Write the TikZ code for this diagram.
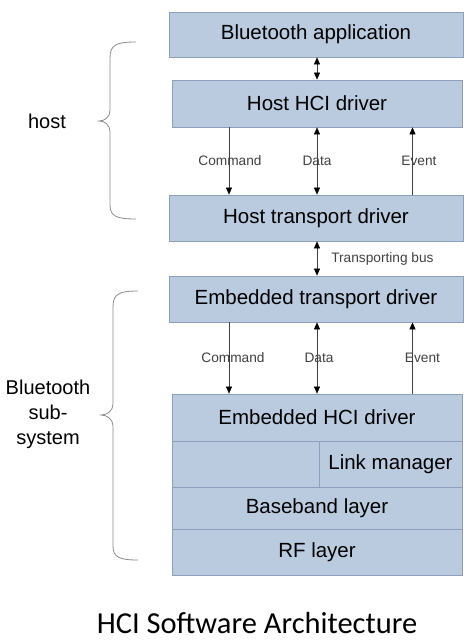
\documentclass[tikz,border=0pt]{standalone}
\usepackage{fontspec}
\setmainfont{Liberation Sans}
\newfontfamily\titlefont{Carlito}
\usetikzlibrary{arrows.meta,positioning,calc}
\definecolor{layerfill}{HTML}{BACADF}
\definecolor{layerline}{HTML}{8C9FBC}

\begin{document}
\begin{tikzpicture}[
    x=1pt, y=-1pt,
    layer/.style={rectangle, draw=layerline, fill=layerfill, line width=0.8pt, inner sep=0pt, font=\fontsize{20.5}{24}\selectfont},
    lbl/.style={font=\fontsize{13.7}{16}\selectfont, inner sep=0pt},
    side/.style={font=\fontsize{20}{25}\selectfont, align=center},
    arrow/.style={-{Triangle[length=7pt,width=6pt,black]}, black!75, line width=0.6pt},
    darrow/.style={{Triangle[length=7pt,width=6pt,black]}-{Triangle[length=7pt,width=6pt,black]}, black!75, line width=0.6pt},
    bracket/.style={draw=black!45, line width=0.8pt}
]
\useasboundingbox (0,0) rectangle (471,644);

% Host side
\node[layer, minimum width=294pt, minimum height=45pt] (app) at (316,34.5) {Bluetooth application};
\node[layer, minimum width=290pt, minimum height=47pt] (hhci) at (317,103.5) {Host HCI driver};
\node[layer, minimum width=294pt, minimum height=46pt] (htd) at (316,218) {Host transport driver};

% Controller side
\node[layer, minimum width=294pt, minimum height=46pt] (etd) at (316,299) {Embedded transport driver};
\node[layer, minimum width=290pt, minimum height=47pt] (ehci) at (317,417.5) {Embedded HCI driver};
\node[layer, minimum width=147pt, minimum height=46pt] (blank) at (245.5,464) {};
\node[layer, minimum width=143pt, minimum height=46pt] (lm) at (390.5,464) {Link manager};
\node[layer, minimum width=290pt, minimum height=42pt] (bb) at (317,508) {Baseband layer};
\node[layer, minimum width=290pt, minimum height=46pt] (rf) at (317,552) {RF layer};

% Arrow columns
\coordinate (cmd) at (229,0);
\coordinate (dat) at (317,0);
\coordinate (evt) at (412.5,0);

\draw[darrow] (dat |- app.south) -- (dat |- hhci.north);

\draw[arrow] (cmd |- hhci.south) -- node[lbl, midway, xshift=1pt] {Command} (cmd |- htd.north);
\draw[darrow] (dat |- hhci.south) -- node[lbl, midway] {Data} (dat |- htd.north);
\draw[arrow] (evt |- htd.north) -- node[lbl, midway, xshift=6.5pt] {Event} (evt |- hhci.south);

\draw[darrow] (dat |- htd.south) -- node[lbl, midway, right, xshift=14pt] {Transporting bus} (dat |- etd.north);

\draw[arrow] (cmd |- etd.south) -- node[lbl, midway, xshift=4pt] {Command} (cmd |- ehci.north);
\draw[darrow] (dat |- etd.south) -- node[lbl, midway, xshift=2pt] {Data} (dat |- ehci.north);
\draw[arrow] (evt |- ehci.north) -- node[lbl, midway, xshift=10pt] {Event} (evt |- etd.south);

% Braces
\draw[bracket] (136,42) .. controls (116,42) and (110,45) .. (110,58) -- (110,110)
    .. controls (110,117) and (105,121) .. (99,121)
    .. controls (105,121) and (110,125) .. (110,132) -- (110,205)
    .. controls (110,216) and (116,219) .. (136,219);
\draw[bracket] (138,291) .. controls (119,291) and (113,294) .. (113,307) -- (113,404)
    .. controls (113,411) and (107,415) .. (101,415)
    .. controls (107,415) and (113,419) .. (113,426) -- (113,546)
    .. controls (113,557) and (119,560) .. (138,560);

\node[side] (host) at (47,121) {host};
\node[side] (sub) at (48,414) {Bluetooth\\sub-\\system};

% Caption
\node[font=\titlefont\fontsize{30.5}{36}\selectfont] (title) at (257,623) {HCI Software Architecture};

\end{tikzpicture}
\end{document}
